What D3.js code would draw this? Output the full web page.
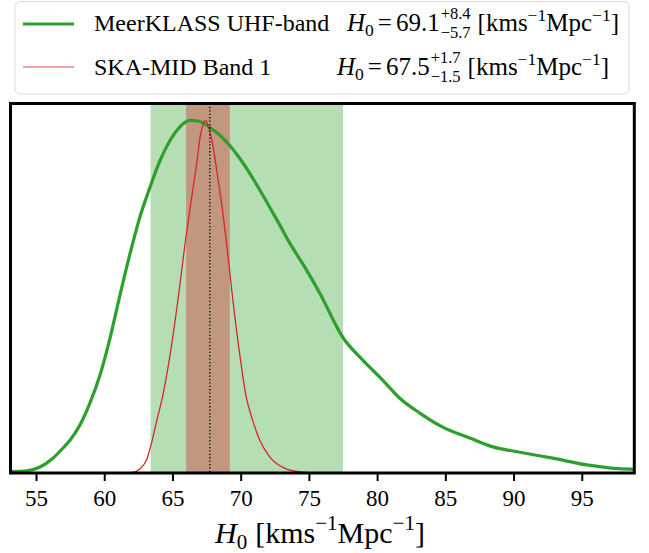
<!DOCTYPE html>
<html><head><meta charset="utf-8">
<script src="https://cdn.jsdelivr.net/npm/d3@7"></script>
<style>body{margin:0;background:#fff}svg{display:block}</style>
</head><body><div id="chart"></div>
<script>
// ---- data ----
const meerH0 = [53.13,54.3,55.29,56.24,56.98,57.49,58.22,58.95,59.69,60.42,61.15,61.89,62.62,63.35,64.08,64.82,65.55,66.28,67.01,67.74,68.47,69.2,69.94,70.89,71.92,72.87,73.6,74.7,75.8,77.48,78.95,80.42,81.66,83.13,84.81,86.79,88.48,90.46,92.87,95.36,98.51,98.85];
const meerP  = [0.004,0.006,0.017,0.042,0.071,0.093,0.136,0.198,0.278,0.382,0.504,0.622,0.727,0.81,0.885,0.943,0.982,1.0,0.997,0.98,0.958,0.929,0.892,0.836,0.768,0.703,0.652,0.584,0.51,0.385,0.32,0.263,0.212,0.17,0.13,0.099,0.074,0.059,0.042,0.023,0.011,0.011];
const skaH0 = [61.15,62.1,62.62,63.13,63.5,63.86,64.3,64.82,65.4,65.91,66.43,66.79,67.01,67.23,67.45,67.6,67.96,68.33,68.69,68.98,69.43,69.94,70.38,70.89,71.41,72.14,73.24,74.34,75.44];
const skaP  = [0.0,0.002,0.012,0.04,0.09,0.15,0.221,0.334,0.49,0.646,0.788,0.881,0.949,0.986,1.0,0.986,0.929,0.836,0.739,0.646,0.49,0.334,0.221,0.148,0.092,0.045,0.013,0.003,0.0];
const meerBand = [63.4, 77.5];
const skaBand = [66.0, 69.2];
const fiducial = 67.74;
const xTicks = [55,60,65,70,75,80,85,90,95];
const legendNames = ["MeerKLASS UHF-band","SKA-MID Band 1"];
const legendVals = [["69.1","+8.4","\u22125.7"],["67.5","+1.7","\u22121.5"]];

const FONT = "'Liberation Serif', 'DejaVu Serif', serif";
const W=649,H=553;
const svg=d3.select("#chart").append("svg").attr("width",W).attr("height",H)
  .style("font-family",FONT);
const x=d3.scaleLinear().domain([53.13,98.85]).range([10.5,634.3]);
const y=d3.scaleLinear().domain([0,1.048]).range([473,103.5]);

// bands
svg.append("rect").attr("x",x(meerBand[0])).attr("width",x(meerBand[1])-x(meerBand[0]))
  .attr("y",y(1.048)).attr("height",y(0)-y(1.048)).attr("fill","#2ca02c").attr("fill-opacity",0.35);
svg.append("rect").attr("x",x(skaBand[0])).attr("width",x(skaBand[1])-x(skaBand[0]))
  .attr("y",y(1.048)).attr("height",y(0)-y(1.048)).attr("fill","#d62728").attr("fill-opacity",0.39);

const line=d3.line().x(d=>x(d[0])).y(d=>y(d[1])).curve(d3.curveMonotoneX);
svg.append("path").datum(d3.zip(meerH0,meerP)).attr("d",line).attr("fill","none")
  .attr("stroke","#2ca02c").attr("stroke-width",3.2);
svg.append("path").datum(d3.zip(skaH0,skaP)).attr("d",line).attr("fill","none")
  .attr("stroke","#d62728").attr("stroke-width",1.3);
svg.append("line").attr("x1",x(fiducial)).attr("x2",x(fiducial)).attr("y1",y(1.048)).attr("y2",y(0))
  .attr("stroke","#000").attr("stroke-width",1.3).attr("stroke-dasharray","1.3,2.1");

// axis
const ax=svg.append("g").attr("transform","translate(0,473)")
  .call(d3.axisBottom(x).tickValues(xTicks).tickSize(8).tickPadding(5).tickFormat(d3.format("d")));
ax.attr("font-family",null).attr("font-size",null);
ax.select(".domain").remove();
ax.selectAll(".tick line").attr("stroke","#000").attr("stroke-width",2);
ax.selectAll(".tick text").attr("fill","#000").style("font-family",FONT).style("font-size","23px").attr("dy",null).attr("y",33);

// frame
svg.append("rect").attr("x",10.5).attr("y",103.5).attr("width",634.3-10.5).attr("height",473-103.5)
  .attr("fill","none").attr("stroke","#000").attr("stroke-width",3);

// math helper
function mathText(g,x0,yb,pieces,base){
  let cx=x0;
  const mk=(xx,yy,sz,txt)=>g.append("text").attr("x",xx).attr("y",yy)
     .style("font-family",FONT).style("font-size",sz+"px").attr("fill","#000").text(txt);
  pieces.forEach(p=>{
    if(p.gap){cx+=p.gap;return;}
    if(p.stack){
      let wmax=0;
      p.stack.forEach(s=>{
        const t=mk(cx,yb+s.dy,base*s.s,s.t);
        wmax=Math.max(wmax,t.node().getComputedTextLength());
      });
      cx+=wmax;return;
    }
    const t=mk(cx,yb+(p.dy||0),base*(p.s||1),p.t);
    if(p.it) t.style("font-style","italic");
    cx+=t.node().getComputedTextLength();
  });
  return cx-x0;
}

// legend
const lg=svg.append("g");
lg.append("rect").attr("x",15).attr("y",1.5).attr("width",614).attr("height",92.5).attr("rx",5)
  .attr("fill","#fff").attr("stroke","#d9d9d9").attr("stroke-width",1);
lg.append("line").attr("x1",23).attr("x2",74).attr("y1",24).attr("y2",24).attr("stroke","#2ca02c").attr("stroke-width",3.2);
lg.append("line").attr("x1",23).attr("x2",74).attr("y1",67).attr("y2",67).attr("stroke","#d62728").attr("stroke-opacity",0.55).attr("stroke-width",1.5);
const rows=[{yb:31,xm:347},{yb:75,xm:337}];
rows.forEach((r,i)=>{
  lg.append("text").attr("x",94).attr("y",r.yb).style("font-family",FONT).style("font-size","24px").attr("fill","#000").text(legendNames[i]);
  const v=legendVals[i];
  mathText(lg,r.xm,r.yb,[
    {t:"H",it:true},{t:"0",s:0.7,dy:5},{gap:4},{t:"="},{gap:4},{t:v[0]},{gap:1},
    {stack:[{t:v[1],s:0.66,dy:-12},{t:v[2],s:0.66,dy:7}]},{gap:7},
    {t:"[kms"},{t:"\u22121",s:0.7,dy:-10},{t:"Mpc"},{t:"\u22121",s:0.7,dy:-10},{t:"]"}
  ],25);
});

// x label
const xl=svg.append("g");
const wl=mathText(xl,0,543,[{t:"H",it:true},{t:"0",s:0.7,dy:6},{gap:8},{t:"[kms"},{t:"\u22121",s:0.7,dy:-13},{t:"Mpc"},{t:"\u22121",s:0.7,dy:-13},{t:"]"}],30);
xl.attr("transform",`translate(${320-wl/2},0)`);
</script></body></html>
